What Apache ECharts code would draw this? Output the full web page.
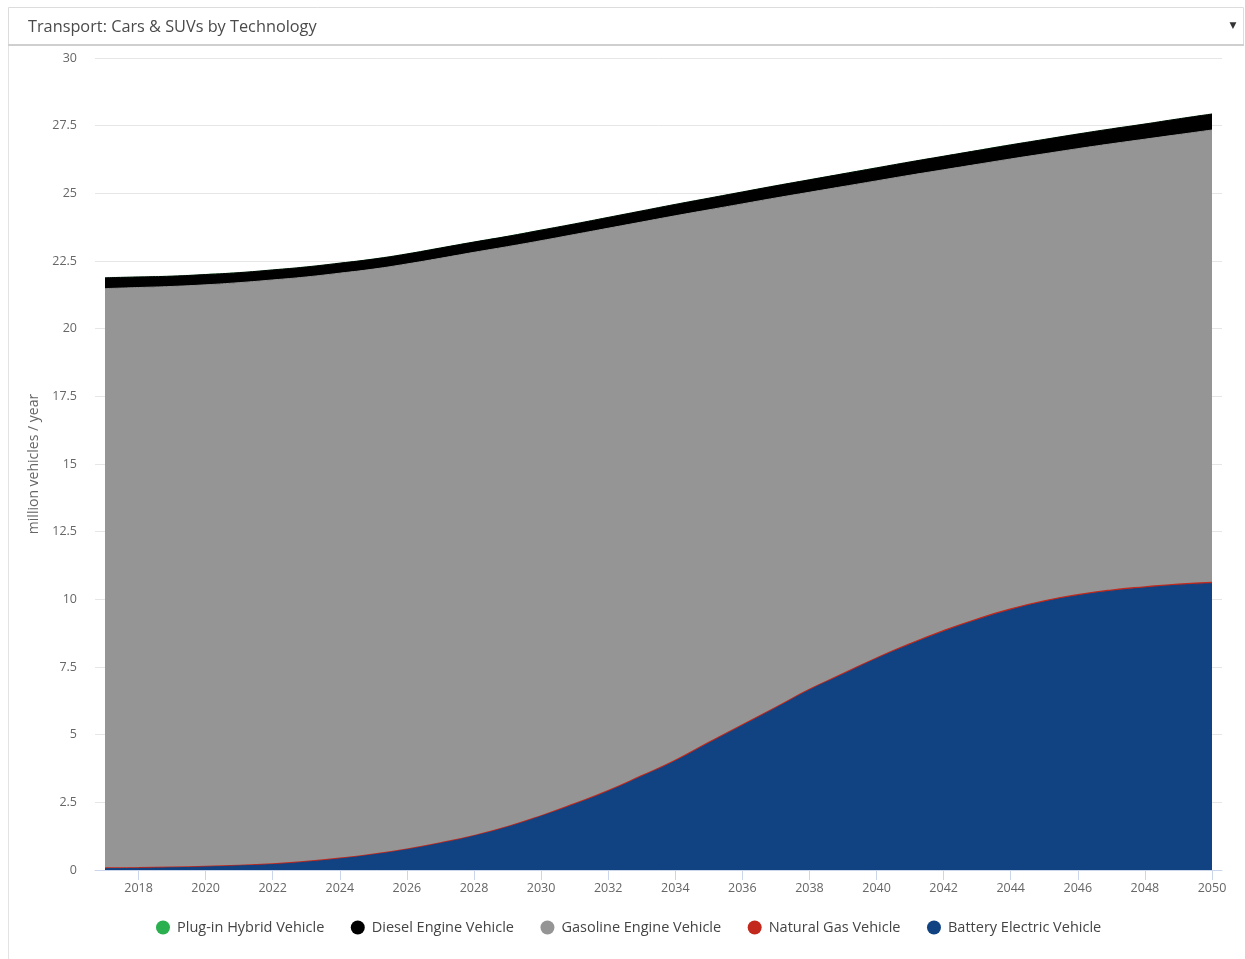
<!DOCTYPE html>
<html>
<head>
<meta charset="utf-8">
<title>Transport: Cars & SUVs by Technology</title>
<script src="https://cdn.jsdelivr.net/npm/echarts@6/dist/echarts.min.js"></script>
<style>
  html, body { margin: 0; padding: 0; background: #fff; }
  #chart { width: 1245px; height: 959px; }
</style>
</head>
<body>
<div id="chart"></div>
<script>
// Annual sales, million vehicles per year
const years = [2017, 2018, 2019, 2020, 2021, 2022, 2023, 2024, 2025, 2026, 2027,
  2028, 2029, 2030, 2031, 2032, 2033, 2034, 2035, 2036, 2037, 2038, 2039, 2040,
  2041, 2042, 2043, 2044, 2045, 2046, 2047, 2048, 2049, 2050];

const batteryElectric = [0.05, 0.06, 0.08, 0.11, 0.15, 0.20, 0.29, 0.41, 0.56, 0.75, 0.98,
  1.25, 1.58, 1.98, 2.42, 2.90, 3.45, 4.02, 4.68, 5.33, 5.98, 6.64, 7.22, 7.80,
  8.32, 8.80, 9.23, 9.60, 9.90, 10.13, 10.30, 10.42, 10.52, 10.58];

const naturalGas = [0.02, 0.02, 0.02, 0.02, 0.02, 0.02, 0.02, 0.02, 0.02, 0.02, 0.02,
  0.02, 0.02, 0.02, 0.03, 0.03, 0.03, 0.03, 0.03, 0.03, 0.03, 0.03, 0.03, 0.03,
  0.04, 0.04, 0.04, 0.04, 0.04, 0.04, 0.04, 0.04, 0.04, 0.04];

const gasoline = [21.41, 21.44, 21.46, 21.49, 21.53, 21.58, 21.60, 21.62, 21.62, 21.62, 21.60,
  21.55, 21.43, 21.25, 21.03, 20.78, 20.46, 20.12, 19.68, 19.25, 18.82, 18.37, 18.00, 17.63,
  17.31, 17.03, 16.80, 16.63, 16.52, 16.48, 16.49, 16.54, 16.61, 16.72];

const diesel = [0.40, 0.39, 0.38, 0.38, 0.37, 0.37, 0.37, 0.37, 0.37, 0.37, 0.38,
  0.38, 0.38, 0.39, 0.39, 0.40, 0.41, 0.42, 0.43, 0.44, 0.45, 0.46, 0.47, 0.48,
  0.49, 0.50, 0.51, 0.52, 0.53, 0.54, 0.55, 0.56, 0.58, 0.59];

const plugInHybrid = [0.01, 0.01, 0.01, 0.01, 0.01, 0.01, 0.01, 0.01, 0.01, 0.01, 0.01,
  0.01, 0.01, 0.01, 0.01, 0.01, 0.01, 0.01, 0.01, 0.01, 0.01, 0.01, 0.01, 0.01,
  0.01, 0.01, 0.01, 0.01, 0.01, 0.01, 0.01, 0.01, 0.01, 0.01];

const xTickYears = [2018, 2020, 2022, 2024, 2026, 2028, 2030, 2032, 2034, 2036, 2038,
  2040, 2042, 2044, 2046, 2048, 2050];

const legendOrder = ['Plug-in Hybrid Vehicle', 'Diesel Engine Vehicle',
  'Gasoline Engine Vehicle', 'Natural Gas Vehicle', 'Battery Electric Vehicle'];

const FONT = '"Open Sans", "Noto Sans", sans-serif';

// Plot box in pixels, with a small margin either side of the first and last year
const GRID_LEFT = 95, GRID_RIGHT_EDGE = 1222, PAD_LEFT = 10, PAD_RIGHT = 10;
const plotWidth = GRID_RIGHT_EDGE - GRID_LEFT;
const firstYear = years[0], lastYear = years[years.length - 1];
const pxPerYear = (plotWidth - PAD_LEFT - PAD_RIGHT) / (lastYear - firstYear);
const xMin = firstYear - PAD_LEFT / pxPerYear;
const xMax = xMin + plotWidth / pxPerYear;

// Layers from the bottom of the stack up
const layers = [
  { name: 'Battery Electric Vehicle', values: batteryElectric, color: '#114382', line: '#114382', width: 1 },
  { name: 'Natural Gas Vehicle', values: naturalGas, color: '#c3281c', line: '#c3281c', width: 1.5 },
  { name: 'Gasoline Engine Vehicle', values: gasoline, color: '#959595', line: '#959595', width: 1 },
  { name: 'Diesel Engine Vehicle', values: diesel, color: '#000000', line: '#000000', width: 1 },
  { name: 'Plug-in Hybrid Vehicle', values: plugInHybrid, color: '#2ab04f', line: '#a8dcb5', width: 0.6 }
];

// Running totals: each layer's area is filled down to the axis and the
// layers below are painted over it, which gives the stacked look.
const running = years.map(() => 0);
const series = layers.map((layer, k) => {
  const data = years.map((y, i) => {
    running[i] = +(running[i] + layer.values[i]).toFixed(4);
    return [y, running[i]];
  });
  return {
    name: layer.name,
    type: 'line',
    smooth: true,
    symbol: 'none',
    z: 10 - k,
    data: data,
    itemStyle: { color: layer.color },
    lineStyle: { color: layer.line, width: layer.width },
    areaStyle: { color: layer.color, opacity: 1 },
    emphasis: { disabled: true }
  };
});

const chart = echarts.init(document.getElementById('chart'), null, { renderer: 'canvas' });

chart.setOption({
  animation: false,
  backgroundColor: '#ffffff',
  textStyle: { fontFamily: FONT },
  graphic: [
    { type: 'line', shape: { x1: 8.5, y1: 45, x2: 8.5, y2: 959 },
      style: { stroke: '#e3e3e3', lineWidth: 1 } },
    { type: 'rect', shape: { x: 8.5, y: 7.5, width: 1235, height: 37 },
      style: { fill: '#ffffff', stroke: '#dcdcdc', lineWidth: 1 } },
    { type: 'line', shape: { x1: 8, y1: 45, x2: 1244, y2: 45 },
      style: { stroke: '#cfcfcf', lineWidth: 2 } },
    { type: 'text', x: 28, y: 27.5,
      style: { text: 'Transport: Cars & SUVs by Technology', fill: '#4a4a4a',
        font: '16.3px ' + FONT, verticalAlign: 'middle', align: 'left' } },
    { type: 'text', x: 1233, y: 26,
      style: { text: '▼', fill: '#333333', font: '9px "DejaVu Sans", sans-serif',
        verticalAlign: 'middle', align: 'center' } }
  ],
  grid: { left: GRID_LEFT, right: 1245 - GRID_RIGHT_EDGE, top: 58, bottom: 89, containLabel: false },
  legend: {
    data: legendOrder,
    bottom: 19,
    left: 151,
    icon: 'circle',
    itemWidth: 14,
    itemHeight: 14,
    itemGap: 26.5,
    textStyle: { fontFamily: FONT, fontSize: 14.5, color: '#444444', padding: [0, 0, 0, 2] }
  },
  xAxis: {
    type: 'value',
    min: xMin,
    max: xMax,
    axisLine: { show: true, lineStyle: { color: '#ccd6eb', width: 1 } },
    axisTick: { show: true, customValues: xTickYears, length: 10,
      lineStyle: { color: '#ccd6eb' } },
    axisLabel: { customValues: xTickYears, color: '#666666', fontSize: 12.5,
      fontFamily: FONT, margin: 12, formatter: v => String(v) },
    splitLine: { show: false }
  },
  yAxis: {
    type: 'value',
    min: 0,
    max: 30,
    interval: 2.5,
    name: 'million vehicles / year',
    nameLocation: 'middle',
    nameGap: 52,
    nameTextStyle: { color: '#666666', fontSize: 14, fontFamily: FONT },
    axisLine: { show: false },
    axisTick: { show: false },
    axisLabel: { color: '#666666', fontSize: 12.5, fontFamily: FONT, margin: 18 },
    splitLine: { lineStyle: { color: '#e6e6e6', width: 1 } }
  },
  series: series
});
</script>
</body>
</html>
